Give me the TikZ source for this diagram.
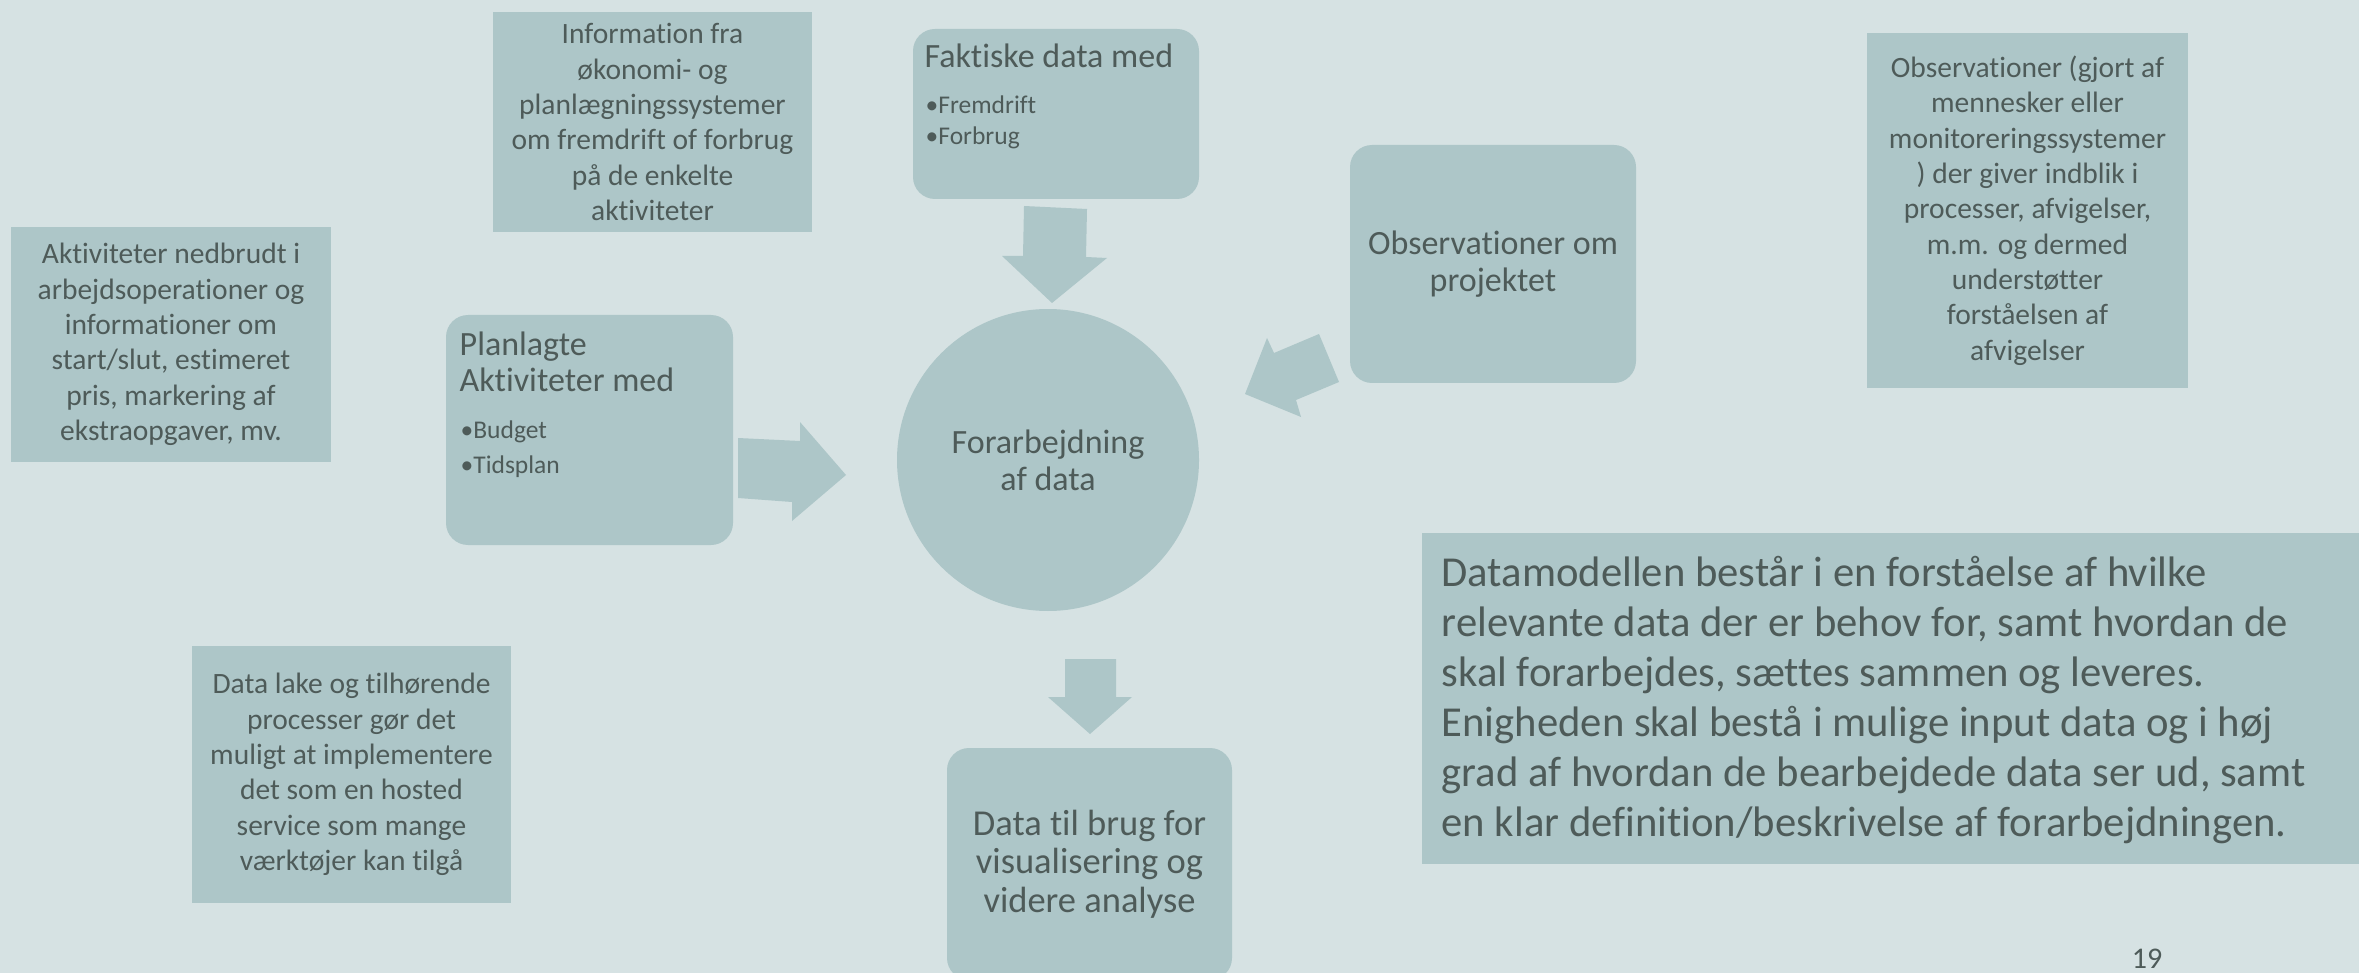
\documentclass[tikz,border=0pt]{standalone}
\usepackage{fontspec}
\setmainfont{Carlito}[Ligatures=NoCommon]
\definecolor{bgcol}{HTML}{D6E2E3}
\definecolor{boxcol}{HTML}{ADC6C8}
\definecolor{txtcol}{HTML}{4E5B59}
\begin{document}
\begin{tikzpicture}[x=0.3pt,y=-0.3pt,
  box/.style={fill=boxcol, draw=none, inner sep=0pt, text=txtcol, align=center},
  rbox/.style={box, rounded corners=6.6pt},
  blockarrow/.style={fill=boxcol, draw=none},
  smalltxt/.style={font=\fontsize{8.85pt}{10.6pt}\selectfont},
  titletxt/.style={font=\fontsize{10.2pt}{11pt}\selectfont},
  bullettxt/.style={font=\fontsize{7.65pt}{9.6pt}\selectfont, text=txtcol, inner sep=0pt, anchor=base west},
  headtxt/.style={font=\fontsize{10.2pt}{11pt}\selectfont, text=txtcol, inner sep=0pt, anchor=base west},
  bigtxt/.style={font=\fontsize{12.8pt}{15pt}\selectfont, text=txtcol, inner sep=0pt, align=left}]

% canvas
\fill[bgcol] (0,0) rectangle (2359,973);
\useasboundingbox (0,0) rectangle (2359,973);
\clip (0,0) rectangle (2359,973);

% side notes
\node[box, smalltxt, minimum width=95.7pt, minimum height=66pt] (info) at (652.5,122)
  {Information fra\\økonomi- og\\planlægningssystemer\\om fremdrift of forbrug\\på de enkelte\\aktiviteter};
\node[box, smalltxt, minimum width=96pt, minimum height=70.5pt] (aktnote) at (171,344.5)
  {Aktiviteter nedbrudt i\\arbejdsoperationer og\\informationer om\\start/slut, estimeret\\pris, markering af\\ekstraopgaver, mv.};
\node[box, smalltxt, minimum width=96.3pt, minimum height=106.5pt] (obsnote) at (2027.5,210.5)
  {Observationer (gjort af\\mennesker eller\\monitoreringssystemer\\) der giver indblik i\\processer, afvigelser,\\m.m. og dermed\\understøtter\\forståelsen af\\afvigelser};
\node[box, smalltxt, minimum width=95.7pt, minimum height=77.1pt] (lakenote) at (351.5,774.5)
  {Data lake og tilhørende\\processer gør det\\muligt at implementere\\det som en hosted\\service som mange\\værktøjer kan tilgå};

% input: actual data
\node[rbox, minimum width=85.8pt, minimum height=51pt] (fakt) at (1056,114) {};
\node[headtxt] (fakttitle) at (924,68) {Faktiske data med};
\node[bullettxt] (faktb1) at (925,114) {•Fremdrift};
\node[bullettxt] (faktb2) at (925,145) {•Forbrug};

% input: planned activities
\node[rbox, minimum width=86.1pt, minimum height=69pt] (plan) at (589.5,430) {};
\node[headtxt] (plantitle1) at (459,355) {Planlagte};
\node[headtxt] (plantitle2) at (459,392) {Aktiviteter med};
\node[bullettxt] (planb1) at (460,438) {•Budget};
\node[bullettxt] (planb2) at (460,473) {•Tidsplan};

% input: observations
\node[rbox, titletxt, minimum width=85.8pt, minimum height=71.4pt] (obs) at (1493,264)
  {Observationer om\\projektet};

% processing step
\node[circle, fill=boxcol, inner sep=0pt, text=txtcol, align=center, titletxt,
  minimum size=90.6pt] (proc) at (1048,460) {Forarbejdning\\af data};

% output
\node[rbox, font=\fontsize{10.95pt}{11.6pt}\selectfont, minimum width=85.5pt,
  minimum height=69.6pt] (out) at (1089.5,864) {Data til brug for\\visualisering og\\videre analyse};

% block arrows
\fill[blockarrow] (1024,206) -- (1087,209) -- (1086,257) -- (1107,258) -- (1052,303)
  -- (1002,256) -- (1023,256) -- cycle;
\fill[blockarrow] (738,438) -- (800,441) -- (800,422) -- (846,475) -- (792,521)
  -- (792,502) -- (738,498) -- cycle;
\fill[blockarrow] (1267,338) -- (1274,353) -- (1319,334) -- (1339,382) -- (1296,400)
  -- (1301,417) -- (1245,394) -- cycle;
\fill[blockarrow] (1065,659) -- (1116,659) -- (1116,697) -- (1132,697) -- (1090,734)
  -- (1048,697) -- (1065,697) -- cycle;

% data model description
\fill[boxcol] (1422,533) rectangle (2380,864);
\node[bigtxt, anchor=west] (model) at (1441,700)
  {Datamodellen består i en forståelse af hvilke\\relevante data der er behov for, samt hvordan de\\skal forarbejdes, sættes sammen og leveres.\\Enigheden skal bestå i mulige input data og i høj\\grad af hvordan de bearbejdede data ser ud, samt\\en klar definition/beskrivelse af forarbejdningen.};

% slide number
\node[text=txtcol, inner sep=0pt, font=\fontsize{9pt}{10pt}\selectfont] (pagenum) at (2147,959) {19};
\end{tikzpicture}
\end{document}
